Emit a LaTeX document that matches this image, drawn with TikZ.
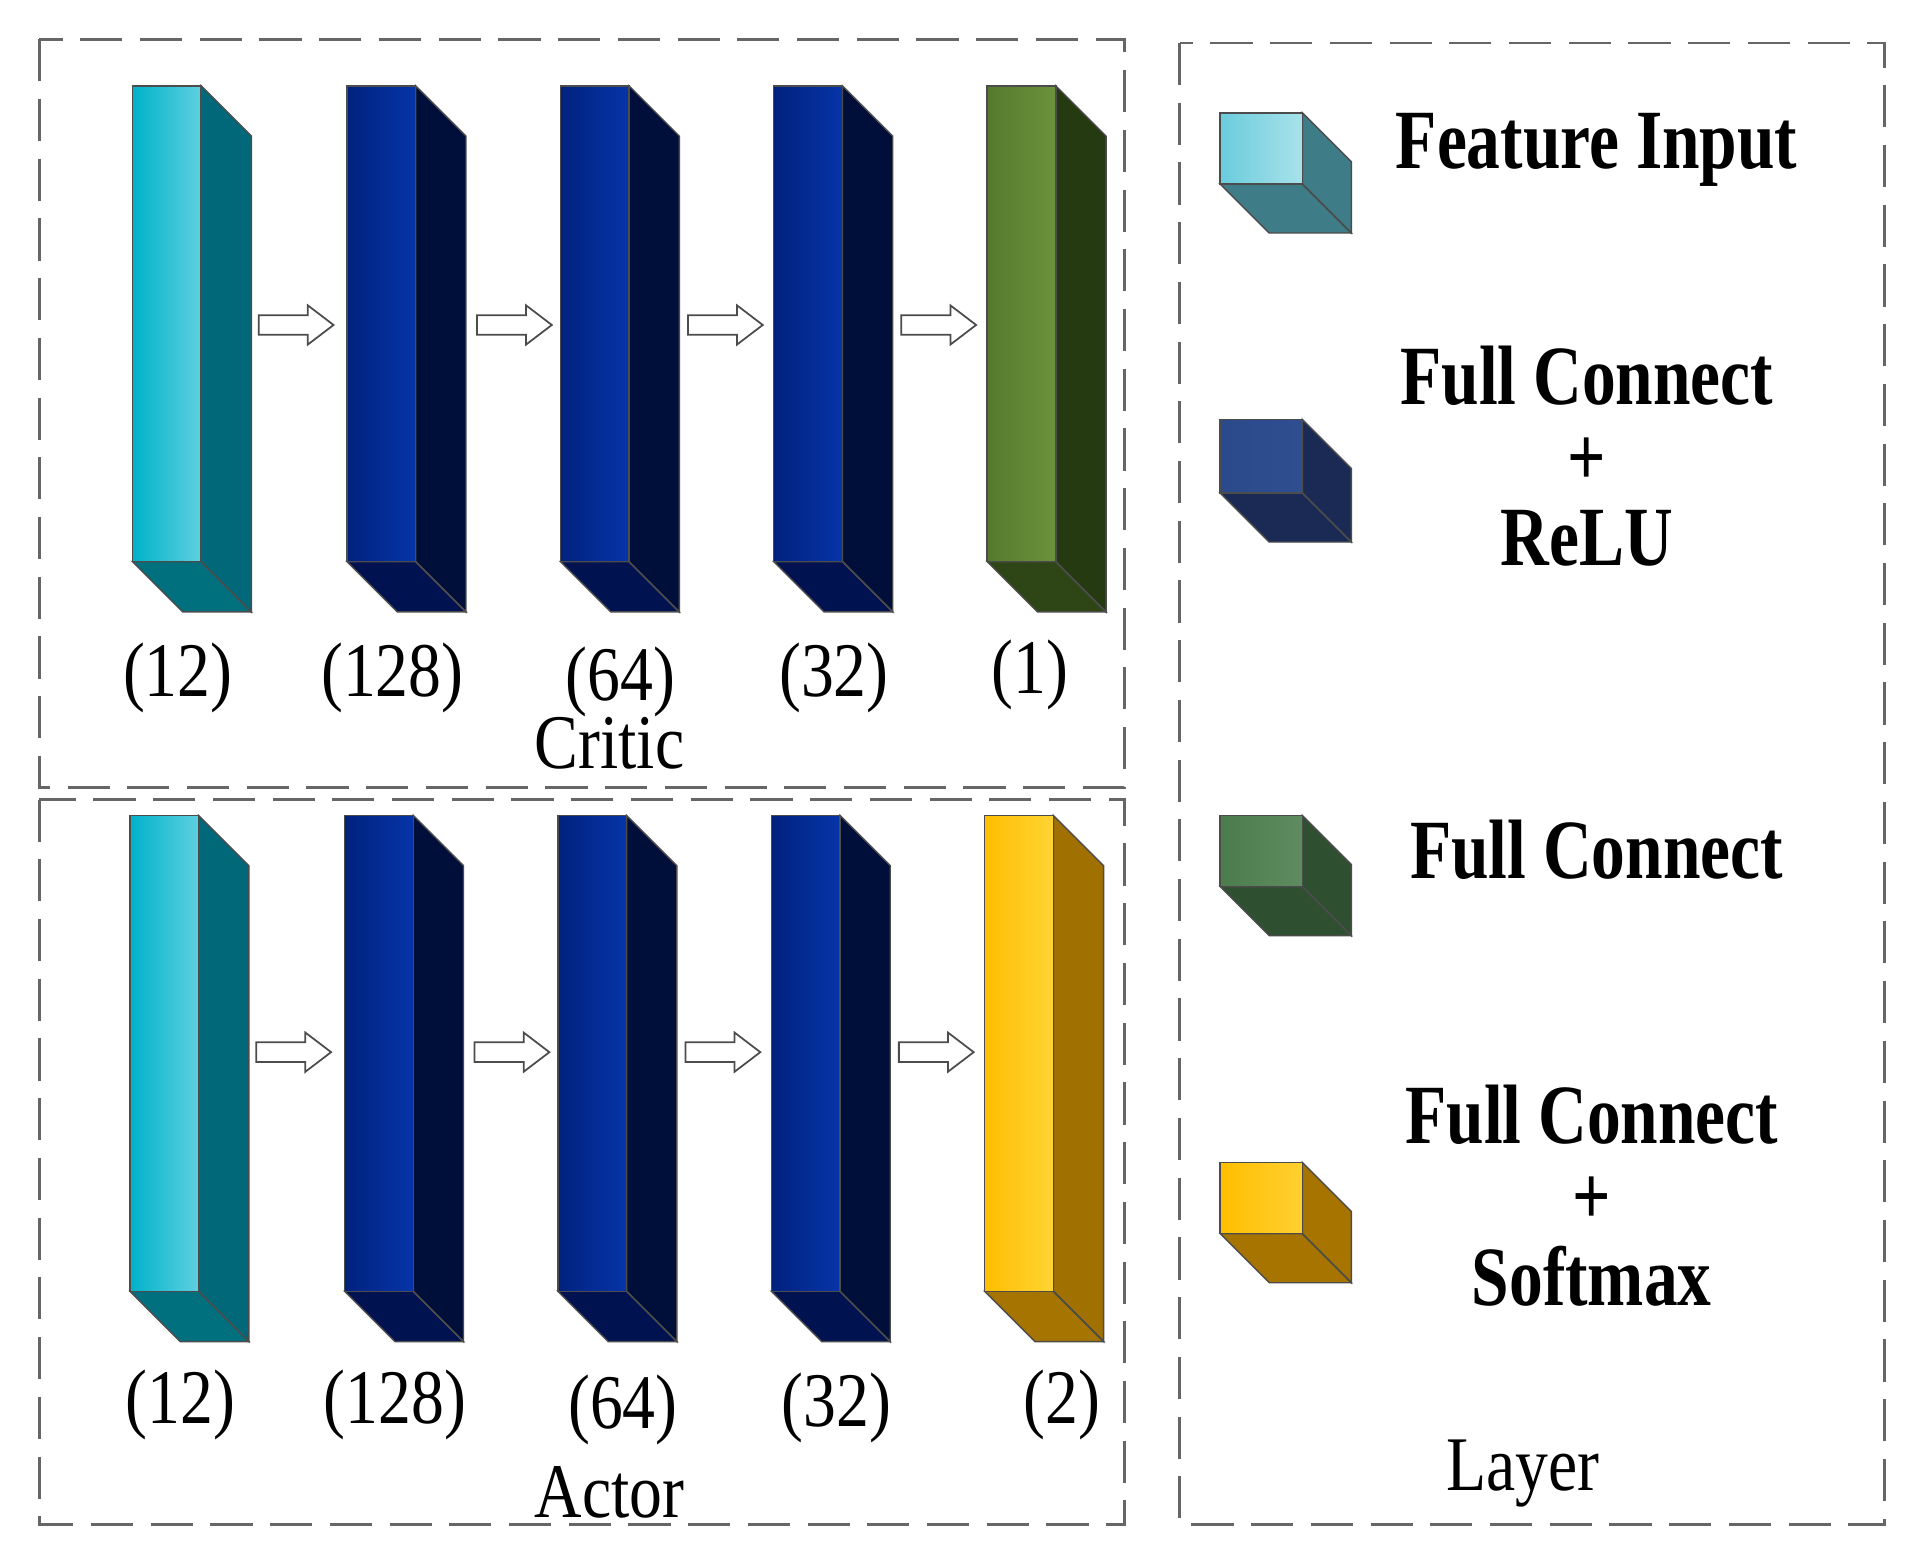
\documentclass[tikz,border=0pt]{standalone}
\usepackage{fontspec}
\setmainfont{Liberation Serif}
\newfontfamily\cond{Liberation Serif}[FakeStretch=0.8]
\newfontfamily\condn{Liberation Serif}[FakeStretch=0.85]
\definecolor{cyL}{HTML}{00B2CA}\definecolor{cyR}{HTML}{5ED0E0}\definecolor{cyS}{HTML}{006878}\definecolor{cyB}{HTML}{00707E}
\definecolor{blL}{HTML}{00227E}\definecolor{blR}{HTML}{0634A8}\definecolor{blS}{HTML}{000E3A}\definecolor{blB}{HTML}{001250}
\definecolor{grL}{HTML}{557A2C}\definecolor{grR}{HTML}{6C923C}\definecolor{grS}{HTML}{253A10}\definecolor{grB}{HTML}{2E4616}
\definecolor{yeL}{HTML}{FFBE00}\definecolor{yeR}{HTML}{FFD434}\definecolor{yeS}{HTML}{A07000}\definecolor{yeB}{HTML}{A67400}
\definecolor{lcL}{HTML}{6ACCDC}\definecolor{lcR}{HTML}{A8E2EA}\definecolor{lcS}{HTML}{3E7C88}
\definecolor{lbL}{HTML}{2A4A8A}\definecolor{lbR}{HTML}{2E4E90}\definecolor{lbS}{HTML}{1A2A55}
\definecolor{lgL}{HTML}{4C7C4E}\definecolor{lgR}{HTML}{5E8C60}\definecolor{lgS}{HTML}{2F5030}
\definecolor{lyL}{HTML}{FFBE00}\definecolor{lyR}{HTML}{FFD030}\definecolor{lyS}{HTML}{A87400}
\newcommand\blk[9]{%
  \fill[#9,draw=black!70,line width=0.4pt] (#1,#2+#4)--(#1+#3,#2+#4)--(#1+#3+#5,#2+#4+#5)--(#1+#5,#2+#4+#5)--cycle;
  \fill[#8,draw=black!70,line width=0.4pt] (#1+#3,#2)--(#1+#3+#5,#2+#5)--(#1+#3+#5,#2+#4+#5)--(#1+#3,#2+#4)--cycle;
  \shade[left color=#6,right color=#7,draw=black!70,line width=0.4pt] (#1,#2) rectangle (#1+#3,#2+#4);
  \draw[black!70,line width=0.4pt] (#1+#3,#2+#4)--(#1+#3+#5,#2+#4+#5);}
\newcommand\harrow[2]{%
  \draw[black!70,fill=white,line width=0.5pt] (#1,#2-8)--(#1+40,#2-8)--(#1+40,#2-16)--(#1+61,#2)--(#1+40,#2+16)--(#1+40,#2+8)--(#1,#2+8)--cycle;}
\tikzset{
  dbox/.style={draw=black!60,dashed,dash pattern=on 12pt off 5pt,line width=0.8pt},
  num/.style={font=\condn\fontsize{22}{24}\selectfont},
  leg/.style={font=\cond\bfseries\fontsize{24}{23}\selectfont,align=center},
}
\begin{document}
\begin{tikzpicture}[x=0.012263cm,y=-0.012263cm]
\useasboundingbox[fill=white] (0,0) rectangle (1560,1270);
\draw[dbox] (32,32) rectangle (917,642);
\draw[dbox] (32,652) rectangle (917,1243);
\draw[dbox] (962,35) rectangle (1537,1243);
% critic
\blk{108}{70}{56}{388}{41}{cyL}{cyR}{cyS}{cyB}
\blk{283}{70}{56}{388}{41}{blL}{blR}{blS}{blB}
\blk{457}{70}{56}{388}{41}{blL}{blR}{blS}{blB}
\blk{631}{70}{56}{388}{41}{blL}{blR}{blS}{blB}
\blk{805}{70}{56}{388}{41}{grL}{grR}{grS}{grB}
\harrow{211}{265}\harrow{389}{265}\harrow{561}{265}\harrow{735}{265}
\node[num] (c1) at (145,553) {(12)};
\node[num] (c2) at (320,553) {(128)};
\node[num] (c3) at (506,556) {(64)};
\node[num] (c4) at (680,553) {(32)};
\node[num] (c5) at (840,550) {(1)};
\node[num] (ct) at (497,606) {Critic};
% actor
\blk{106}{665}{56}{388}{41}{cyL}{cyR}{cyS}{cyB}
\blk{281}{665}{56}{388}{41}{blL}{blR}{blS}{blB}
\blk{455}{665}{56}{388}{41}{blL}{blR}{blS}{blB}
\blk{629}{665}{56}{388}{41}{blL}{blR}{blS}{blB}
\blk{803}{665}{56}{388}{41}{yeL}{yeR}{yeS}{yeB}
\harrow{209}{858}\harrow{387}{858}\harrow{559}{858}\harrow{733}{858}
\node[num] (a1) at (147,1146) {(12)};
\node[num] (a2) at (322,1146) {(128)};
\node[num] (a3) at (508,1150) {(64)};
\node[num] (a4) at (682,1148) {(32)};
\node[num] (a5) at (866,1146) {(2)};
\node[num] (at) at (497,1217) {Actor};
% legend
\blk{995}{92}{67}{58}{40}{lcL}{lcR}{lcS}{lcS}
\blk{995}{342}{67}{60}{40}{lbL}{lbR}{lbS}{lbS}
\blk{995}{665}{67}{58}{40}{lgL}{lgR}{lgS}{lgS}
\blk{995}{948}{67}{58}{40}{lyL}{lyR}{lyS}{lyS}
\node[leg] (l1) at (1302,122) {Feature Input};
\node[leg] (l2) at (1294,372) {Full Connect\\+\\ReLU};
\node[leg] (l3) at (1302,693) {Full Connect};
\node[leg] (l4) at (1298,975) {Full Connect\\+\\Softmax};
\node[num] (ly) at (1242,1202) {Layer};
\end{tikzpicture}
\end{document}
